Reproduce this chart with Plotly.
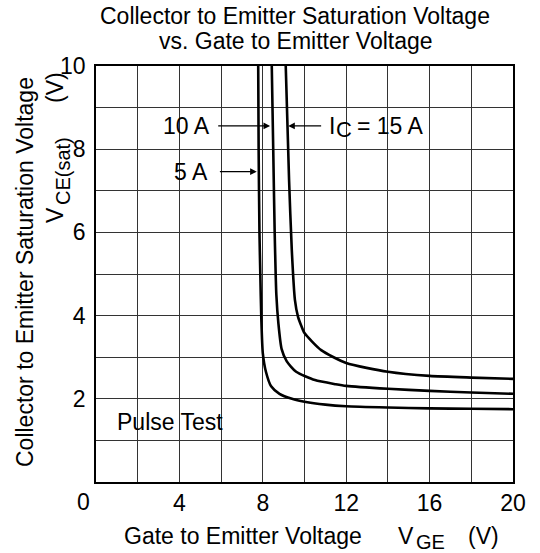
import plotly.graph_objects as go

# ---- data ----
vge_5a = [7.78, 7.80, 7.84, 7.88, 7.93, 8.0, 8.15, 8.4, 8.8, 9.4, 10.0, 11.0, 12.0, 14.0, 16.0, 18.0, 20.0]
vce_5a = [10.0, 8.0, 6.0, 5.0, 3.9, 3.1, 2.65, 2.3, 2.12, 2.0, 1.93, 1.86, 1.82, 1.79, 1.77, 1.76, 1.75]

vge_10a = [8.43, 8.50, 8.57, 8.65, 8.75, 8.9, 9.15, 9.6, 10.5, 11.5, 12.0, 14.0, 16.0, 18.0, 20.0]
vce_10a = [10.0, 8.0, 6.0, 4.5, 3.8, 3.2, 2.9, 2.65, 2.45, 2.35, 2.31, 2.24, 2.19, 2.15, 2.12]

vge_15a = [9.10, 9.26, 9.39, 9.54, 9.69, 9.85, 10.0, 10.8, 12.0, 14.0, 16.0, 18.0, 20.0]
vce_15a = [10.0, 7.26, 5.58, 4.38, 3.97, 3.75, 3.58, 3.17, 2.86, 2.65, 2.55, 2.51, 2.48]

x_tickvals = [0, 2, 4, 6, 8, 10, 12, 14, 16, 18, 20]
x_ticktext = ["", "", "4", "", "8", "", "12", "", "16", "", "20"]
y_tickvals = [0, 1, 2, 3, 4, 5, 6, 7, 8, 9, 10]
y_ticktext = ["", "", "2", "", "4", "", "6", "", "8", "", "10"]

FONT = "Liberation Sans, Arial, Helvetica, sans-serif"
FS = 23

fig = go.Figure()
for xs, ys in [(vge_5a, vce_5a), (vge_10a, vce_10a), (vge_15a, vce_15a)]:
    fig.add_trace(go.Scatter(x=xs, y=ys, mode="lines",
                             line=dict(color="black", width=2.6, shape="spline", smoothing=0.6),
                             showlegend=False, hoverinfo="skip"))

def ptext(text, x, y, size=FS, xanchor="center", yanchor="middle", angle=0):
    fig.add_annotation(text=text, x=x, y=y, xref="paper", yref="paper", showarrow=False,
                       xanchor=xanchor, yanchor=yanchor, textangle=angle,
                       font=dict(family=FONT, size=size, color="black"))

def dtext(text, x, y, size=FS, xanchor="center"):
    fig.add_annotation(text=text, x=x, y=y, xref="x", yref="y", showarrow=False,
                       xanchor=xanchor, yanchor="middle",
                       font=dict(family=FONT, size=size, color="black"))

def arrow(x, y, ax, ay):
    fig.add_annotation(text="", x=x, y=y, ax=ax, ay=ay, xref="x", yref="y",
                       axref="x", ayref="y", showarrow=True, arrowhead=2,
                       arrowsize=1.2, arrowwidth=1.1, arrowcolor="black", standoff=0)

# curve labels with arrows
dtext("10 A", 4.36, 8.56)
arrow(8.35, 8.56, 5.79, 8.56)
dtext("5 A", 4.58, 7.46)
arrow(7.71, 7.46, 5.87, 7.46)
dtext("I", 11.08, 8.56, xanchor="left")
dtext("C", 11.42, 8.48, size=22, xanchor="left")
dtext("= 15 A", 12.42, 8.56, xanchor="left")
arrow(9.22, 8.56, 10.87, 8.56)
dtext("Pulse Test", 0.91, 1.44, xanchor="left")

# title
def px(p): return (p - 96) / 417
def py(p): return (482 - p) / 416

ptext("Collector to Emitter Saturation Voltage", px(294.5), py(16))
ptext("vs. Gate to Emitter Voltage", px(296), py(41))

# x axis title
ptext("Gate to Emitter Voltage", px(122), py(536), xanchor="left")
ptext("V", px(396), py(536), xanchor="left")
ptext("GE", px(414), py(542), size=20, xanchor="left")
ptext("(V)", px(466), py(536), xanchor="left")

# y axis title
ptext("Collector to Emitter Saturation Voltage", px(25), py(272), angle=-90)
ptext("V", px(55), py(215), angle=-90)
ptext("CE(sat)", px(63), py(171), size=20, angle=-90)
ptext("(V)", px(55), py(88), angle=-90)

# origin label
ptext("0", px(83), py(502))

fig.update_layout(
    width=540, height=553,
    margin=dict(l=96, r=27, t=66, b=71),
    paper_bgcolor="white", plot_bgcolor="white",
    font=dict(family=FONT, size=FS, color="black"),
    xaxis=dict(range=[0, 20], tickvals=x_tickvals, ticktext=x_ticktext,
               showgrid=True, gridcolor="#333", gridwidth=1, zeroline=False,
               showline=True, linecolor="black", linewidth=1.5, mirror=True,
               ticks="", ticklabelstandoff=0),
    yaxis=dict(range=[0, 10], tickvals=y_tickvals, ticktext=y_ticktext,
               showgrid=True, gridcolor="#333", gridwidth=1, zeroline=False,
               showline=True, linecolor="black", linewidth=1.5, mirror=True,
               ticks="", ticklabelstandoff=4),
)

fig.write_html("out.html", config={"displayModeBar": False},
               post_script="document.body.style.margin='0';")
